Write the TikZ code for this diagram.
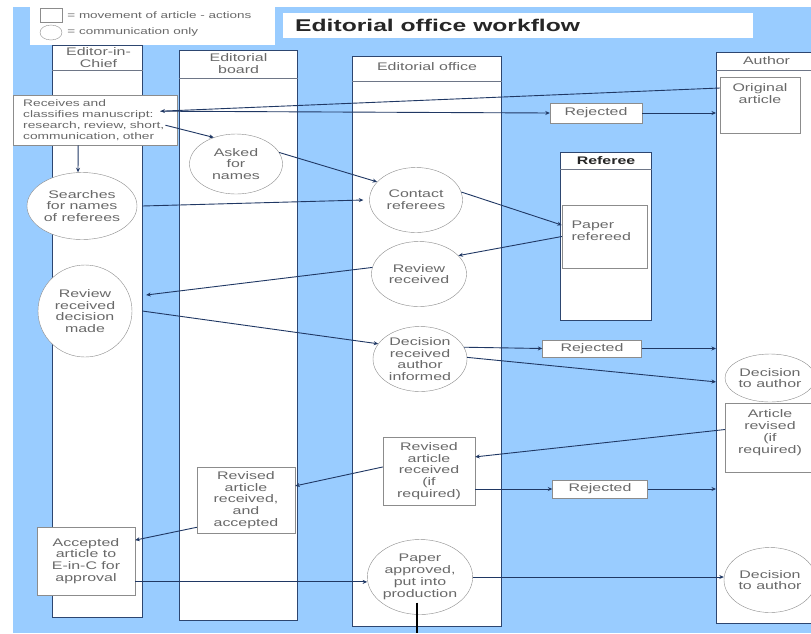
\documentclass[tikz,border=0pt]{standalone}
\usepackage{fontspec}
\setmainfont{Liberation Sans}[FakeStretch=1.45]
\usetikzlibrary{positioning,arrows.meta,calc,shapes.geometric}
\definecolor{laneBlue}{RGB}{153,204,255}
\definecolor{laneLine}{RGB}{45,70,112}
\definecolor{headLine}{RGB}{110,118,135}
\definecolor{boxLine}{RGB}{140,140,140}
\definecolor{boxText}{RGB}{105,105,105}
\definecolor{flowLine}{RGB}{32,56,100}
\tikzset{
  lane/.style={rectangle, draw=laneLine, fill=white, line width=1.1pt, anchor=north west, inner sep=0pt},
  lanehead/.style={align=center, text=boxText, font=\fontsize{11}{12}\selectfont, inner sep=0pt},
  divide/.style={draw=headLine, line width=0.8pt},
  task/.style={rectangle, draw=boxLine, fill=white, align=center, text=boxText,
               font=\fontsize{11}{11.8}\selectfont, inner sep=2pt},
  talk/.style={ellipse, draw=boxLine, fill=white, align=center, text=boxText,
               font=\fontsize{11}{11.8}\selectfont, inner sep=0pt},
  reject/.style={task, minimum height=18pt},
  keytext/.style={text=boxText, font=\fontsize{9.3}{11}\selectfont, inner sep=0pt, anchor=west},
  flow/.style={-{Stealth[length=4.5pt,width=4pt]}, draw=flowLine, line width=0.9pt},
}

\begin{document}
\begin{tikzpicture}[x=1pt, y=-1pt]
  \useasboundingbox (0,0) rectangle (811,633);
  \fill[white] (0,0) rectangle (811,633);
  \fill[laneBlue] (13,7) rectangle (811,633);

  % legend and title
  \node[fill=white, anchor=north west, minimum width=245pt, minimum height=45pt, inner sep=0pt] (legend) at (30,0) {};
  \node[draw=boxLine, fill=white, minimum width=22pt, minimum height=14pt, inner sep=0pt] (keybox) at (51,15) {};
  \node[ellipse, draw=boxLine, fill=white, minimum width=22pt, minimum height=15pt, inner sep=0pt] (keyoval) at (51,32.5) {};
  \node[keytext, right=5pt of keybox] (keyboxtxt) {= movement of article - actions};
  \node[keytext, right=5pt of keyoval] (keyovaltxt) {= communication only};
  \node[fill=white, anchor=north west, minimum width=470pt, minimum height=25pt, inner sep=0pt] (titlebar) at (283,13) {};
  \node[anchor=west, text=black!85, font=\bfseries\fontsize{17}{20}\selectfont, inner sep=0pt] (title)
    at ($(titlebar.west)+(12,0)$) {Editorial office workflow};

  % lanes
  \node[lane, minimum width=90pt, minimum height=572pt] (chief) at (52,45) {};
  \node[lane, minimum width=118pt, minimum height=570pt] (board) at (179,50) {};
  \node[lane, minimum width=149pt, minimum height=570pt] (office) at (352,56) {};
  \node[lane, minimum width=91pt, minimum height=168pt] (referee) at (560,152) {};
  \node[lane, minimum width=100pt, minimum height=571pt] (author) at (716,52) {};
  \draw[divide] ($(chief.north west)+(0,25)$) -- ($(chief.north east)+(0,25)$);
  \draw[divide] ($(board.north west)+(0,28)$) -- ($(board.north east)+(0,28)$);
  \draw[divide] ($(office.north west)+(0,25)$) -- ($(office.north east)+(0,25)$);
  \draw[divide] ($(referee.north west)+(0,17)$) -- ($(referee.north east)+(0,17)$);
  \draw[divide] ($(author.north west)+(0,18)$) -- ($(author.north east)+(0,18)$);
  \node[lanehead] (chiefhead) at ($(chief.north)+(1,12.5)$) {Editor-in-\\Chief};
  \node[lanehead] (boardhead) at ($(board.north)+(0,13.5)$) {Editorial\\board};
  \node[lanehead] (officehead) at ($(office.north)+(0,11)$) {Editorial office};
  \node[lanehead, text=black!85, font=\bfseries\fontsize{11}{12}\selectfont] (refereehead) at ($(referee.north)+(0,8.5)$) {Referee};
  \node[lanehead] (authorhead) at ($(author.north)+(0,9)$) {Author};

  % steps
  \node[task, anchor=north west, align=left, text width=144pt, inner xsep=10pt, minimum height=50pt,
        font=\fontsize{9.5}{10.7}\selectfont] (recv) at (13,95)
        {Receives and\\classifies manuscript:\\research, review, short,\\communication, other};
  \node[talk, minimum width=93pt, minimum height=60pt] (asked) at (236,164) {Asked\\for\\names};
  \node[talk, minimum width=110pt, minimum height=67pt] (search) at (82,206) {Searches\\for names\\of referees};
  \node[talk, minimum width=94pt, minimum height=92pt] (revdec) at (85,311) {Review\\received\\decision\\made};
  \node[talk, minimum width=93pt, minimum height=65pt] (contact) at (416,200) {Contact\\referees};
  \node[talk, minimum width=95pt, minimum height=65pt] (revrec) at (419,274) {Review\\received};
  \node[talk, minimum width=94pt, minimum height=65pt] (decrec) at (420,359) {Decision\\received\\author\\informed};
  \node[talk, minimum width=105pt, minimum height=75pt] (approved) at (420,577) {Paper\\approved,\\put into\\production};
  \node[task, align=left, text width=66pt, inner xsep=9.5pt, minimum height=63pt] (paper) at (604.5,236.5) {Paper\\refereed\\~};
  \node[task, minimum width=80pt, minimum height=56pt] (orig) at (760,105) {Original\\article\\~\\~};
  \node[talk, minimum width=90pt, minimum height=48pt] (dec1) at (770,378) {Decision\\to author};
  \node[task, minimum width=90pt, minimum height=69pt] (rev) at (770,437.5) {Article\\revised\\(if\\required)\\~};
  \node[talk, minimum width=92pt, minimum height=65pt] (dec2) at (770,580) {Decision\\to author};
  \node[reject, minimum width=92pt, minimum height=20pt] (rej1) at (596,113) {Rejected};
  \node[reject, minimum width=99pt, minimum height=17pt] (rej2) at (592,348.5) {Rejected};
  \node[reject, minimum width=95pt] (rej3) at (600,489) {Rejected};
  \node[task, minimum width=92pt, minimum height=68pt] (revoff) at (429,471) {Revised\\article\\received\\(if\\required)};
  \node[task, minimum width=98pt, minimum height=66pt] (revacc) at (246,500) {Revised\\article\\received,\\and\\accepted};
  \node[task, minimum width=98pt, minimum height=68pt] (acc) at (86,561) {Accepted\\article to\\E-in-C for\\approval};
  \coordinate (prodout) at (417,633);

  % connectors
  \draw[flow] ($(orig.west)+(0,-17)$) -- ($(recv.east)+(-17,-9)$);
  \draw[flow] ($(recv.east)+(-17,-9)$) -- (rej1.west);
  \draw[flow] (rej1.east) -- (rej1.east -| author.west);
  \draw[flow] ($(recv.east)+(-12,5)$) -- (asked.130);
  \draw[flow] ([xshift=-17pt]recv.south) -- ([xshift=-4pt]search.north);
  \draw[flow] (asked.15) -- (contact.155);
  \draw[flow] ([xshift=5pt]search.east) -- ([xshift=-6pt]contact.west);
  \draw[flow] (contact.10) -- (paper.165);
  \draw[flow] (paper.west) -- (revrec.25);
  \draw[flow] (revrec.172) -- ($(revdec.east)+(14,-16)$);
  \draw[flow] ([xshift=10pt]revdec.east) -- (decrec.160);
  \draw[flow] (decrec.15) -- (rej2.west);
  \draw[flow] (rej2.east) -- (rej2.east -| author.west);
  \draw[flow] (decrec.2) -- (author.west |- dec1.185);
  \draw[flow] (rev.170) -- (revoff.17);
  \draw[flow] (revoff.east |- rej3.west) -- (rej3.west);
  \draw[flow] (rej3.east) -- (rej3.east -| author.west);
  \draw[flow] (revoff.175) -- (revacc.16);
  \draw[flow] (revacc.209) -- (acc.23);
  \draw[flow] (acc.-23) -- (acc.-23 -| approved.west);
  \draw[flow] (approved.east) -- (approved.east -| dec2.west);
  \draw[line width=2.6pt, black] ($(approved.south)+(-3,-12)$) -- (prodout);
\end{tikzpicture}
\end{document}
